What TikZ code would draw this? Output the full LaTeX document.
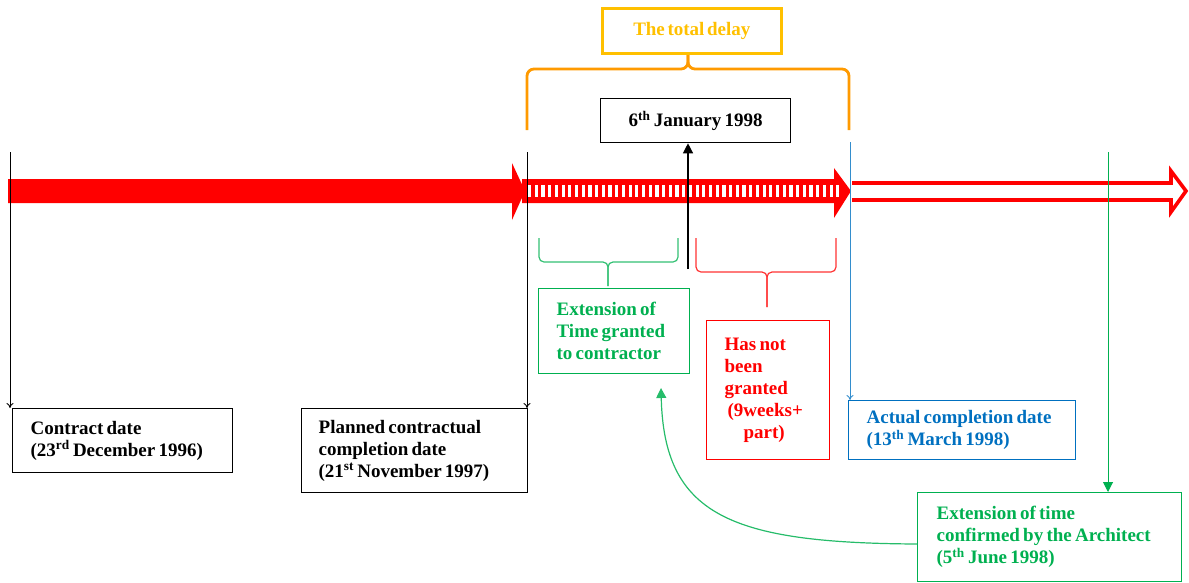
\documentclass[tikz,border=0pt]{standalone}
\usepackage{fontspec}
\setmainfont{Liberation Serif}[WordSpace=0.55]
\usetikzlibrary{arrows.meta}
\definecolor{egreen}{HTML}{00B050}
\definecolor{ered}{HTML}{FF0000}
\definecolor{eblue}{HTML}{0070C0}
\definecolor{eorange}{HTML}{FFC000}
\definecolor{ebrace}{HTML}{FF9A00}
\newcommand{\lblfont}{\fontsize{19}{22}\selectfont\bfseries}
\begin{document}
\begin{tikzpicture}[x=1pt,y=-1pt,
  boxn/.style={draw, line width=1.3pt, anchor=north west, inner xsep=18pt, inner ysep=0pt,
     font=\lblfont, align=left, execute at begin node={\spaceskip=0.17em\relax}},
  downtip/.style={-{To[length=5pt,width=7pt]}, line width=0.9pt},
  filltip/.style={-{Triangle[length=10pt,width=10pt]}, line width=1pt}
]
\useasboundingbox (0,0) rectangle (1189,582);
% ---- main arrow: solid part
\fill[ered] (8,179) -- (512,179) -- (512,163) -- (525,191) -- (512,220) -- (512,203) -- (8,203) -- cycle;
% ---- striped part
\fill[ered] (522,179) -- (834,179) -- (834,168) -- (851,191) -- (834,218) -- (834,203) -- (522,203) -- cycle;
\foreach \i in {0,...,46} {
  \fill[white] ({528+\i*6.7},185) rectangle ({531.2+\i*6.7},197);
}
% ---- outline part
\draw[ered, line width=3.6pt, line join=miter, fill=white]
  (852,183) -- (1171,183) -- (1171,171) -- (1186,191) -- (1171,212) -- (1171,200) -- (852,200);
% ---- top boxes and braces
\node[draw=eorange, line width=2.6pt, text=eorange, font=\lblfont,
  minimum width=179pt, minimum height=45pt, anchor=north west, inner sep=0pt] (total) at (601,7) {The total delay};
\draw[ebrace, line width=2.8pt, rounded corners=7pt] (527,130) -- (527,69) -- (688,69) -- (688,55);
\draw[ebrace, line width=2.8pt, rounded corners=7pt] (849,130) -- (849,69) -- (688,69) -- (688,55);
\node[boxn, inner xsep=0pt, minimum width=190pt, minimum height=44pt] (jan) at (600,98) {6\textsuperscript{th} January 1998};
% ---- lower braces
\draw[egreen!80, line width=1.2pt, rounded corners=5pt] (539,238) -- (539,262) -- (608,262) -- (608,286);
\draw[egreen!80, line width=1.2pt, rounded corners=5pt] (678,238) -- (678,262) -- (608,262) -- (608,286);
\draw[ered!80, line width=1.2pt, rounded corners=5pt] (696,238) -- (696,272) -- (767,272) -- (767,307);
\draw[ered!80, line width=1.2pt, rounded corners=5pt] (836,238) -- (836,272) -- (767,272) -- (767,307);
% ---- boxes
\node[boxn, draw=egreen, text=egreen, minimum height=85pt, inner xsep=18pt, text width=115pt] (eot) at (538,288)
  {Extension of\\Time granted\\to contractor};
\node[boxn, draw=ered, text=ered, minimum height=139pt, text width=87pt] (hng) at (706,320)
  {Has not\\been\\granted\\\hspace*{3pt}(9weeks+\\\hspace*{19pt}part)};
\node[boxn, minimum height=64pt, text width=184pt] (contract) at (12,408)
  {Contract date\\(23\textsuperscript{rd} December 1996)};
\node[boxn, minimum height=84pt, inner xsep=17pt, text width=192pt] (planned) at (301,408)
  {Planned contractual\\completion date\\(21\textsuperscript{st} November 1997)};
\node[boxn, draw=eblue, text=eblue, minimum height=59pt, text width=191pt] (actual) at (848,400)
  {Actual completion date\\(13\textsuperscript{th} March 1998)};
\node[boxn, draw=egreen, text=egreen, minimum height=89pt, inner xsep=19pt, text width=226pt] (eotarch) at (917,492)
  {Extension of time\\confirmed by the Architect\\(5\textsuperscript{th} June 1998)};
% ---- connectors
\coordinate (t1) at (10,152);
\coordinate (t2) at (527,152);
\coordinate (t3) at (688,269);
\coordinate (t4) at (850,142);
\coordinate (t5) at (1108,152);
\draw[downtip] (t1) -- (t1 |- contract.north);
\draw[downtip] (t2) -- (t2 |- planned.north);
\draw[filltip, line width=1.3pt] (t3) -- (t3 |- jan.south);
\draw[downtip, eblue!80] (t4) -- (t4 |- actual.north);
\draw[filltip, egreen] (t5) -- (t5 |- eotarch.north);
\coordinate (ce) at (661,388);
\draw[filltip, egreen!85, line width=1.2pt] (eotarch.west |- 0,544) .. controls (730,543) and (664,515) .. (ce);
\end{tikzpicture}
\end{document}
